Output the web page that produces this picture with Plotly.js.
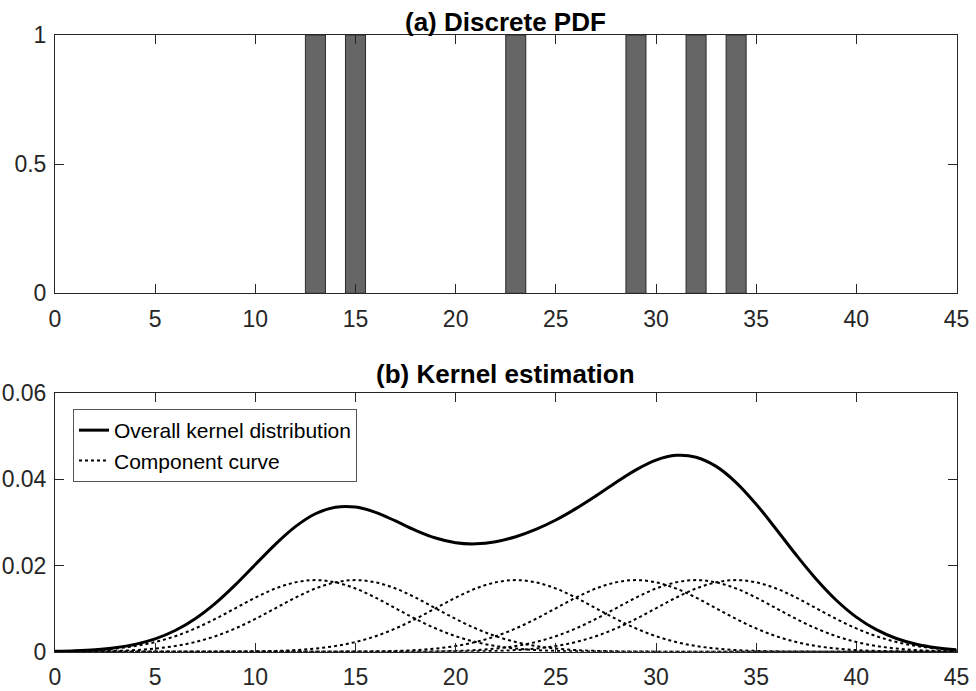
<!DOCTYPE html>
<html>
<head>
<meta charset="utf-8">
<script src="https://cdn.plot.ly/plotly-3.0.1.min.js"></script>
<style>html,body{margin:0;padding:0;background:#fff;}#chart{width:976px;height:691px;}</style>
</head>
<body>
<div id="chart"></div>
<script>
// ---- data ----
const barCenters = [13, 15, 23, 29, 32, 34];
const barHeights = [1, 1, 1, 1, 1, 1];

const kernelX = [0,1,2,3,4,5,6,7,8,9,10,11,12,13,14,15,16,17,18,19,20,21,22,23,24,25,26,27,28,29,30,31,32,33,34,35,36,37,38,39,40,41,42,43,44,45];
const kernelY = [0.00010,0.00022,0.00047,0.00092,0.00170,0.00298,0.00492,0.00766,0.01122,0.01552,0.02025,0.02494,0.02904,0.03203,0.03356,0.03358,0.03235,0.03035,0.02819,0.02639,0.02530,0.02504,0.02555,0.02670,0.02840,0.03059,0.03322,0.03618,0.03930,0.04222,0.04448,0.04559,0.04516,0.04303,0.03928,0.03425,0.02844,0.02245,0.01682,0.01195,0.00803,0.00511,0.00307,0.00174,0.00093,0.00047];

// one component curve, as offsets from its centre
const profileOffsets = [-45,-17,-16,-15,-14,-13,-12,-11,-10,-9,-8,-7,-6,-5,-4,-3,-2,-1,0,1,2,3,4,5,6,7,8,9,10,11,12,13,14,15,16,17,45];
const profileValues = [0,0.000002,0.0000056,0.000015,0.000036,0.000085,0.000185,0.00038,0.00073,0.00132,0.00225,0.0036,0.0054,0.00761,0.01008,0.01255,0.01467,0.01611,0.01662,0.01611,0.01467,0.01255,0.01008,0.00761,0.0054,0.0036,0.00225,0.00132,0.00073,0.00038,0.000185,0.000085,0.000036,0.000015,0.0000056,0.000002,0];

const xTickVals = [0,5,10,15,20,25,30,35,40,45];
const yTickValsA = [0, 0.5, 1];
const yTickValsB = [0, 0.02, 0.04, 0.06];
const titleA = '(a) Discrete PDF';
const titleB = '(b) Kernel estimation';
const legendOverall = 'Overall kernel distribution';
const legendComponent = 'Component curve';

// ---- styling ----
const FONT = 'Liberation Sans, Arial, Helvetica, sans-serif';
const AXC = '#262626';

const traces = [];
traces.push({
  type: 'bar', x: barCenters, y: barHeights, width: 1,
  marker: {color: '#666666', line: {color: '#2a2a2a', width: 1}},
  xaxis: 'x', yaxis: 'y', showlegend: false, hoverinfo: 'x+y'
});
traces.push({
  type: 'scatter', mode: 'lines', x: kernelX, y: kernelY,
  line: {color: '#000000', width: 3, shape: 'spline', smoothing: 1},
  name: legendOverall, xaxis: 'x2', yaxis: 'y2'
});
barCenters.forEach((c, i) => {
  traces.push({
    type: 'scatter', mode: 'lines',
    x: profileOffsets.map(o => c + o), y: profileValues,
    line: {color: '#000000', width: 2, dash: 'dot', shape: 'spline', smoothing: 1},
    name: legendComponent, legendgroup: 'comp', showlegend: i === 0,
    xaxis: 'x2', yaxis: 'y2'
  });
});

const xDom = [55/976, 956.5/976];
const axCommon = {
  showline: true, mirror: 'ticks', linecolor: AXC, linewidth: 1,
  ticks: 'inside', ticklen: 9, tickwidth: 1, tickcolor: AXC,
  showgrid: false, zeroline: false, automargin: false,
  tickfont: {family: FONT, size: 23, color: AXC}, fixedrange: true
};
const xAx = Object.assign({}, axCommon, {domain: xDom, range: [0, 45], tickvals: xTickVals, ticklabelstandoff: 5});
const yAx = Object.assign({}, axCommon, {ticklabelstandoff: 3});

const layout = {
  width: 976, height: 691,
  margin: {l: 0, r: 0, t: 0, b: 0},
  paper_bgcolor: '#ffffff', plot_bgcolor: '#ffffff',
  font: {family: FONT, color: AXC},
  bargap: 0,
  xaxis: Object.assign({}, xAx, {anchor: 'y'}),
  yaxis: Object.assign({}, yAx, {domain: [1 - 293.3/691, 1 - 35/691], range: [0, 1], tickvals: yTickValsA, anchor: 'x'}),
  xaxis2: Object.assign({}, xAx, {anchor: 'y2'}),
  yaxis2: Object.assign({}, yAx, {domain: [1 - 651.7/691, 1 - 393.3/691], range: [0, 0.06], tickvals: yTickValsB, anchor: 'x2'}),
  showlegend: true,
  legend: {
    x: 73/976, y: 1 - 409/691, xanchor: 'left', yanchor: 'top',
    bgcolor: '#ffffff', bordercolor: '#555555', borderwidth: 1,
    font: {family: FONT, size: 21, color: '#000000'},
    tracegroupgap: 0, itemwidth: 30
  },
  annotations: [
    {text: '<b>' + titleA + '</b>', xref: 'paper', yref: 'paper', x: (55 + 956.5) / 2 / 976, y: 1 - 22/691,
     xanchor: 'center', yanchor: 'middle', showarrow: false, font: {family: FONT, size: 26, color: '#000000'}},
    {text: '<b>' + titleB + '</b>', xref: 'paper', yref: 'paper', x: (55 + 956.5) / 2 / 976, y: 1 - 374/691,
     xanchor: 'center', yanchor: 'middle', showarrow: false, font: {family: FONT, size: 26, color: '#000000'}}
  ]
};

Plotly.newPlot('chart', traces, layout, {displayModeBar: false, staticPlot: true});
</script>
</body>
</html>
